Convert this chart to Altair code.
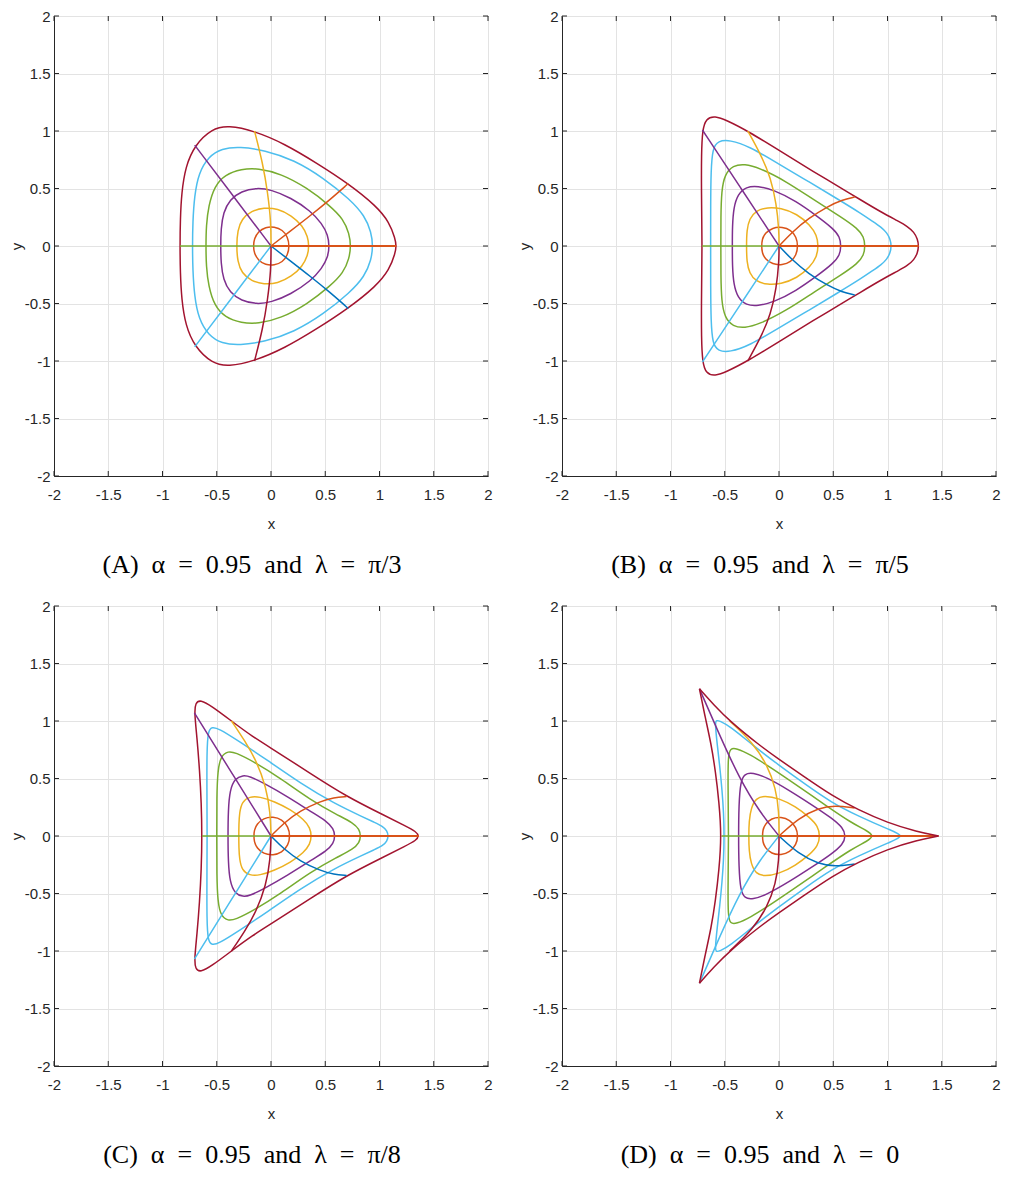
import altair as alt
import pandas as pd

# MATLAB default colour order
BLUE, ORANGE, YELLOW, PURPLE = "#0072BD", "#D95319", "#EDB120", "#7E2F8E"
GREEN, CYAN, DARKRED = "#77AC30", "#4DBEEE", "#A2142F"
LEVEL_COLORS = [ORANGE, YELLOW, PURPLE, GREEN, CYAN, DARKRED]

TICKS = [-2, -1.5, -1, -0.5, 0, 0.5, 1, 1.5, 2]
PANELS = ["A", "B", "C", "D"]
SP = "\u2002"
CAPTIONS = {
    "A": f"(A){SP}α{SP}={SP}0.95{SP}and{SP}λ{SP}={SP}π/3",
    "B": f"(B){SP}α{SP}={SP}0.95{SP}and{SP}λ{SP}={SP}π/5",
    "C": f"(C){SP}α{SP}={SP}0.95{SP}and{SP}λ{SP}={SP}π/8",
    "D": f"(D){SP}α{SP}={SP}0.95{SP}and{SP}λ{SP}={SP}0",
}

# ---- level curves: upper halves (y >= 0), from the rightmost point to the leftmost point
# Panel A (lambda = pi/3)
A_L1 = [(0.17, 0), (0.154, 0.08), (0.107, 0.14), (0.03, 0.168), (-0.05, 0.165), (-0.118, 0.125), (-0.155, 0.062), (-0.163, 0)]
A_L2 = [(0.35, 0), (0.34, 0.08), (0.29, 0.177), (0.19, 0.265), (0.06, 0.326), (-0.065, 0.334), (-0.18, 0.305), (-0.27, 0.236), (-0.308, 0.135), (-0.318, 0)]
A_L3 = [(0.538, 0), (0.525, 0.095), (0.47, 0.195), (0.364, 0.306), (0.182, 0.42), (0.0, 0.491), (-0.136, 0.506), (-0.273, 0.477), (-0.379, 0.406), (-0.44, 0.291), (-0.461, 0.149), (-0.464, 0)]
A_L4 = [(0.736, 0), (0.722, 0.106), (0.667, 0.234), (0.545, 0.349), (0.333, 0.506), (0.091, 0.629), (-0.121, 0.677), (-0.273, 0.669), (-0.424, 0.62), (-0.521, 0.52), (-0.576, 0.349), (-0.597, 0.177), (-0.6, 0)]
A_L5 = [(0.94, 0), (0.924, 0.12), (0.864, 0.263), (0.727, 0.406), (0.485, 0.591), (0.212, 0.749), (-0.061, 0.834), (-0.288, 0.863), (-0.455, 0.849), (-0.576, 0.777), (-0.667, 0.634), (-0.706, 0.434), (-0.721, 0.206), (-0.724, 0)]
A_L6 = [(1.155, 0), (1.145, 0.063), (1.091, 0.206), (0.97, 0.349), (0.712, 0.543), (0.424, 0.72), (0.121, 0.891), (-0.152, 1.0), (-0.394, 1.049), (-0.545, 1.02), (-0.703, 0.877), (-0.788, 0.691), (-0.824, 0.463), (-0.836, 0.234), (-0.839, 0)]
# Panel B (lambda = pi/5)
B_L1 = [(0.175, 0), (0.16, 0.08), (0.11, 0.14), (0.03, 0.166), (-0.06, 0.16), (-0.13, 0.11), (-0.155, 0.06), (-0.161, 0)]
B_L2 = [(0.364, 0), (0.348, 0.094), (0.288, 0.18), (0.167, 0.28), (0.015, 0.331), (-0.106, 0.337), (-0.212, 0.309), (-0.273, 0.237), (-0.297, 0.137), (-0.3, 0)]
B_L3 = [(0.572, 0), (0.561, 0.08), (0.5, 0.151), (0.364, 0.251), (0.152, 0.394), (-0.045, 0.486), (-0.197, 0.523), (-0.303, 0.514), (-0.379, 0.451), (-0.418, 0.337), (-0.43, 0.166), (-0.43, 0)]
B_L4 = [(0.794, 0), (0.782, 0.08), (0.727, 0.151), (0.576, 0.251), (0.333, 0.394), (0.061, 0.566), (-0.182, 0.68), (-0.318, 0.714), (-0.424, 0.7), (-0.5, 0.623), (-0.53, 0.48), (-0.536, 0.251), (-0.536, 0)]
B_L5 = [(1.036, 0), (1.025, 0.06), (0.995, 0.115), (0.94, 0.165), (0.87, 0.21), (0.758, 0.282), (0.545, 0.406), (0.273, 0.56), (0.0, 0.712), (-0.273, 0.866), (-0.455, 0.923), (-0.561, 0.914), (-0.612, 0.851), (-0.627, 0.651), (-0.63, 0.366), (-0.63, 0)]
B_L6 = [(1.288, 0), (1.277, 0.06), (1.245, 0.12), (1.185, 0.17), (1.1, 0.215), (0.95, 0.29), (0.758, 0.398), (0.5, 0.545), (0.333, 0.638), (0.03, 0.815), (-0.288, 1.0), (-0.485, 1.094), (-0.591, 1.131), (-0.673, 1.109), (-0.706, 1.009), (-0.715, 0.794), (-0.715, 0.509), (-0.712, 0.223), (-0.709, 0)]
# Panel C (lambda = pi/8)
C_L1 = [(0.176, 0), (0.16, 0.08), (0.1, 0.145), (0.02, 0.168), (-0.07, 0.155), (-0.13, 0.105), (-0.155, 0.05), (-0.158, 0)]
C_L2 = [(0.373, 0), (0.361, 0.071), (0.303, 0.143), (0.182, 0.229), (0.03, 0.3), (-0.106, 0.343), (-0.197, 0.343), (-0.267, 0.3), (-0.291, 0.2), (-0.296, 0.1), (-0.297, 0)]
C_L3 = [(0.591, 0), (0.576, 0.063), (0.515, 0.129), (0.364, 0.214), (0.152, 0.343), (-0.061, 0.457), (-0.197, 0.52), (-0.258, 0.529), (-0.333, 0.5), (-0.379, 0.4), (-0.394, 0.229), (-0.397, 0)]
C_L4 = [(0.827, 0), (0.815, 0.057), (0.758, 0.114), (0.606, 0.186), (0.364, 0.314), (0.091, 0.5), (-0.152, 0.643), (-0.333, 0.729), (-0.394, 0.737), (-0.461, 0.7), (-0.491, 0.571), (-0.5, 0.343), (-0.5, 0)]
C_L5 = [(1.082, 0), (1.07, 0.045), (1.03, 0.085), (0.95, 0.12), (0.848, 0.165), (0.576, 0.286), (0.273, 0.457), (-0.03, 0.657), (-0.303, 0.829), (-0.485, 0.937), (-0.545, 0.949), (-0.582, 0.914), (-0.591, 0.714), (-0.591, 0.429), (-0.588, 0)]
C_L6 = [(1.364, 0), (1.339, 0.037), (1.242, 0.086), (1.03, 0.186), (0.697, 0.343), (0.364, 0.543), (0.061, 0.729), (-0.182, 0.871), (-0.364, 1.0), (-0.545, 1.129), (-0.652, 1.186), (-0.697, 1.157), (-0.706, 1.071), (-0.682, 0.857), (-0.658, 0.571), (-0.642, 0.286), (-0.636, 0)]
# Panel D (lambda = 0)
D_L1 = [(0.176, 0), (0.16, 0.075), (0.1, 0.14), (0.02, 0.166), (-0.07, 0.155), (-0.13, 0.1), (-0.15, 0.05), (-0.152, 0)]
D_L2 = [(0.379, 0), (0.358, 0.086), (0.288, 0.157), (0.152, 0.257), (0.0, 0.329), (-0.136, 0.351), (-0.212, 0.329), (-0.258, 0.243), (-0.276, 0.129), (-0.279, 0)]
D_L3 = [(0.615, 0), (0.591, 0.071), (0.485, 0.157), (0.303, 0.271), (0.091, 0.4), (-0.121, 0.514), (-0.242, 0.551), (-0.318, 0.543), (-0.355, 0.471), (-0.37, 0.271), (-0.373, 0)]
D_L4 = [(0.873, 0), (0.818, 0.043), (0.667, 0.114), (0.424, 0.271), (0.182, 0.429), (-0.061, 0.586), (-0.273, 0.714), (-0.394, 0.763), (-0.448, 0.763), (-0.47, 0.7), (-0.47, 0.414), (-0.464, 0)]
D_L5 = [(1.161, 0), (1.03, 0.049), (0.727, 0.175), (0.485, 0.29), (0.242, 0.45), (0.0, 0.615), (-0.242, 0.79), (-0.455, 0.955), (-0.545, 1.0), (-0.582, 1.009), (-0.588, 0.971), (-0.57, 0.8), (-0.545, 0.6), (-0.525, 0.4), (-0.51, 0.2), (-0.505, 0)]
# outer curve of panel D has cusps: upper branch and left branch (upper half)
D_L6_TOP = [(1.47, 0), (1.273, 0.037), (1.0, 0.114), (0.727, 0.229), (0.5, 0.343), (0.212, 0.529), (0.0, 0.666), (-0.182, 0.79), (-0.455, 1.0), (-0.6, 1.14), (-0.733, 1.28)]
D_L6_LEFT = [(-0.733, 1.28), (-0.68, 1.03), (-0.625, 0.8), (-0.585, 0.557), (-0.553, 0.3), (-0.53, 0)]

# ---- radial curves (upper half): angle 0, 45, 90, 135, 180 degrees
A_R0 = [(0, 0), (1.155, 0)]
A_R45 = [(0, 0), (0.18, 0.13), (0.364, 0.265), (0.54, 0.4), (0.712, 0.543)]
A_R90 = [(0, 0), (0, 0.206), (-0.03, 0.463), (-0.076, 0.72), (-0.152, 1.0)]
A_R135 = [(0, 0), (-0.35, 0.437), (-0.703, 0.877)]
A_R180 = [(0, 0), (-0.839, 0)]
B_R0 = [(0, 0), (1.288, 0)]
B_R45 = [(0, 0), (0.12, 0.12), (0.27, 0.24), (0.45, 0.345), (0.58, 0.4), (0.7, 0.427)]
B_R90 = [(0, 0), (0, 0.137), (-0.024, 0.366), (-0.076, 0.594), (-0.167, 0.794), (-0.288, 1.0)]
B_R135 = [(0, 0), (-0.353, 0.505), (-0.706, 1.009)]
B_R180 = [(0, 0), (-0.709, 0)]
C_R0 = [(0, 0), (1.364, 0)]
C_R45 = [(0, 0), (0.12, 0.115), (0.27, 0.22), (0.45, 0.3), (0.58, 0.335), (0.697, 0.343)]
C_R90 = [(0, 0), (-0.006, 0.2), (-0.045, 0.429), (-0.136, 0.657), (-0.242, 0.829), (-0.364, 1.0)]
C_R135 = [(0, 0), (-0.353, 0.535), (-0.706, 1.071)]
C_R180 = [(0, 0), (-0.636, 0)]
D_R0 = [(0, 0), (1.47, 0)]
D_R45 = [(0, 0), (0.182, 0.157), (0.364, 0.243), (0.515, 0.266), (0.697, 0.244)]
D_R90 = [(0, 0), (0, 0.214), (-0.03, 0.414), (-0.106, 0.614), (-0.242, 0.814), (-0.455, 1.0)]
D_R135 = [(0, 0), (-0.182, 0.214), (-0.364, 0.5), (-0.545, 0.871), (-0.733, 1.28)]
D_R180 = [(0, 0), (-0.53, 0)]

LEVELS = {
    "A": [A_L1, A_L2, A_L3, A_L4, A_L5, A_L6],
    "B": [B_L1, B_L2, B_L3, B_L4, B_L5, B_L6],
    "C": [C_L1, C_L2, C_L3, C_L4, C_L5, C_L6],
    "D": [D_L1, D_L2, D_L3, D_L4, D_L5],
}
RAYS = {
    "A": (A_R0, A_R45, A_R90, A_R135, A_R180),
    "B": (B_R0, B_R45, B_R90, B_R135, B_R180),
    "C": (C_R0, C_R45, C_R90, C_R135, C_R180),
    "D": (D_R0, D_R45, D_R90, D_R135, D_R180),
}


def mirror(pts):
    return [(x, -y) for x, y in pts]


closed_rows, open_rows = [], []
LW = 1.5


def add(rows, panel, name, color, pts, width=LW):
    for i, (x, y) in enumerate(pts):
        rows.append({"panel": panel, "curve": name, "i": i, "x": x, "y": y,
                     "color": color, "w": width})


for p in PANELS:
    for k, upper in enumerate(LEVELS[p]):
        loop = upper + mirror(list(reversed(upper[1:-1])))
        add(closed_rows, p, f"L{k}", LEVEL_COLORS[k], loop)
    r0, r45, r90, r135, r180 = RAYS[p]
    add(open_rows, p, "r45", ORANGE, r45)
    add(open_rows, p, "r90", YELLOW, r90)
    add(open_rows, p, "r135", PURPLE, r135)
    add(open_rows, p, "r180", GREEN, r180)
    add(open_rows, p, "r225", CYAN, mirror(r135))
    add(open_rows, p, "r270", DARKRED, mirror(r90))
    add(open_rows, p, "r315", BLUE, mirror(r45))
    add(open_rows, p, "r0", ORANGE, r0, 2.1)

add(open_rows, "D", "L6top", DARKRED, D_L6_TOP)
add(open_rows, "D", "L6bot", DARKRED, mirror(D_L6_TOP))
add(open_rows, "D", "L6left", DARKRED, D_L6_LEFT + mirror(list(reversed(D_L6_LEFT[:-1]))))

closed_df = pd.DataFrame(closed_rows)
open_df = pd.DataFrame(open_rows)
ticks_df = pd.DataFrame({"t": TICKS})

W, H = 434, 460
FRAME = "#262626"
SANS = "Liberation Sans Narrow, Liberation Sans, Arial, sans-serif"
LABEL_EXPR = "toString(datum.value)"


def xenc(field):
    return alt.X(field, type="quantitative", title="x",
                 scale=alt.Scale(domain=[-2, 2], nice=False, zero=False),
                 axis=alt.Axis(values=TICKS, labelExpr=LABEL_EXPR))


def yenc(field):
    return alt.Y(field, type="quantitative", title="y",
                 scale=alt.Scale(domain=[-2, 2], nice=False, zero=False),
                 axis=alt.Axis(values=TICKS, labelExpr=LABEL_EXPR))


def panel_chart(p):
    loops = alt.Chart(closed_df[closed_df["panel"] == p]).mark_line(
        interpolate="basis-closed", strokeWidth=LW
    ).encode(
        x=xenc("x"), y=yenc("y"),
        color=alt.Color("color:N", scale=None),
        detail="curve:N", order="i:Q",
    )
    opens = alt.Chart(open_df[open_df["panel"] == p]).mark_line(
        interpolate="basis"
    ).encode(
        x=xenc("x"), y=yenc("y"),
        color=alt.Color("color:N", scale=None),
        strokeWidth=alt.StrokeWidth("w:Q", scale=None),
        detail="curve:N", order="i:Q",
    )
    tick = alt.Chart(ticks_df).mark_rule(color=FRAME, strokeWidth=1)
    t_bottom = tick.encode(x=xenc("t"), y=alt.value(H), y2=alt.value(H - 5))
    t_top = tick.encode(x=xenc("t"), y=alt.value(0), y2=alt.value(5))
    t_left = tick.encode(y=yenc("t"), x=alt.value(0), x2=alt.value(5))
    t_right = tick.encode(y=yenc("t"), x=alt.value(W), x2=alt.value(W - 5))
    return alt.layer(loops, opens, t_bottom, t_top, t_left, t_right).properties(
        width=W, height=H,
        title=alt.TitleParams(
            text=CAPTIONS[p], orient="bottom", anchor="middle",
            font="Liberation Serif, Times New Roman, serif", fontSize=26,
            fontWeight="normal", color="black", offset=21, dx=-19,
        ),
    )


chart = alt.concat(
    *[panel_chart(p) for p in PANELS],
    columns=2, spacing={"row": 130, "column": 74}, bounds="flush",
).properties(
    padding=0
).configure_view(
    stroke=FRAME, strokeWidth=1
).configure_axis(
    labelFont=SANS, labelFontSize=15, labelColor=FRAME,
    titleFont=SANS, titleFontSize=15, titleFontWeight="normal", titleColor=FRAME,
    gridColor="#e3e3e3", gridWidth=1, domainColor=FRAME, domainWidth=1,
    ticks=False, tickSize=0, labelFlush=False, labelOverlap=False,
).configure_axisX(
    labelPadding=11, titlePadding=14,
).configure_axisY(
    labelPadding=4, titlePadding=0,
)

chart.save("out.html", embed_options={"renderer": "svg", "actions": False})
